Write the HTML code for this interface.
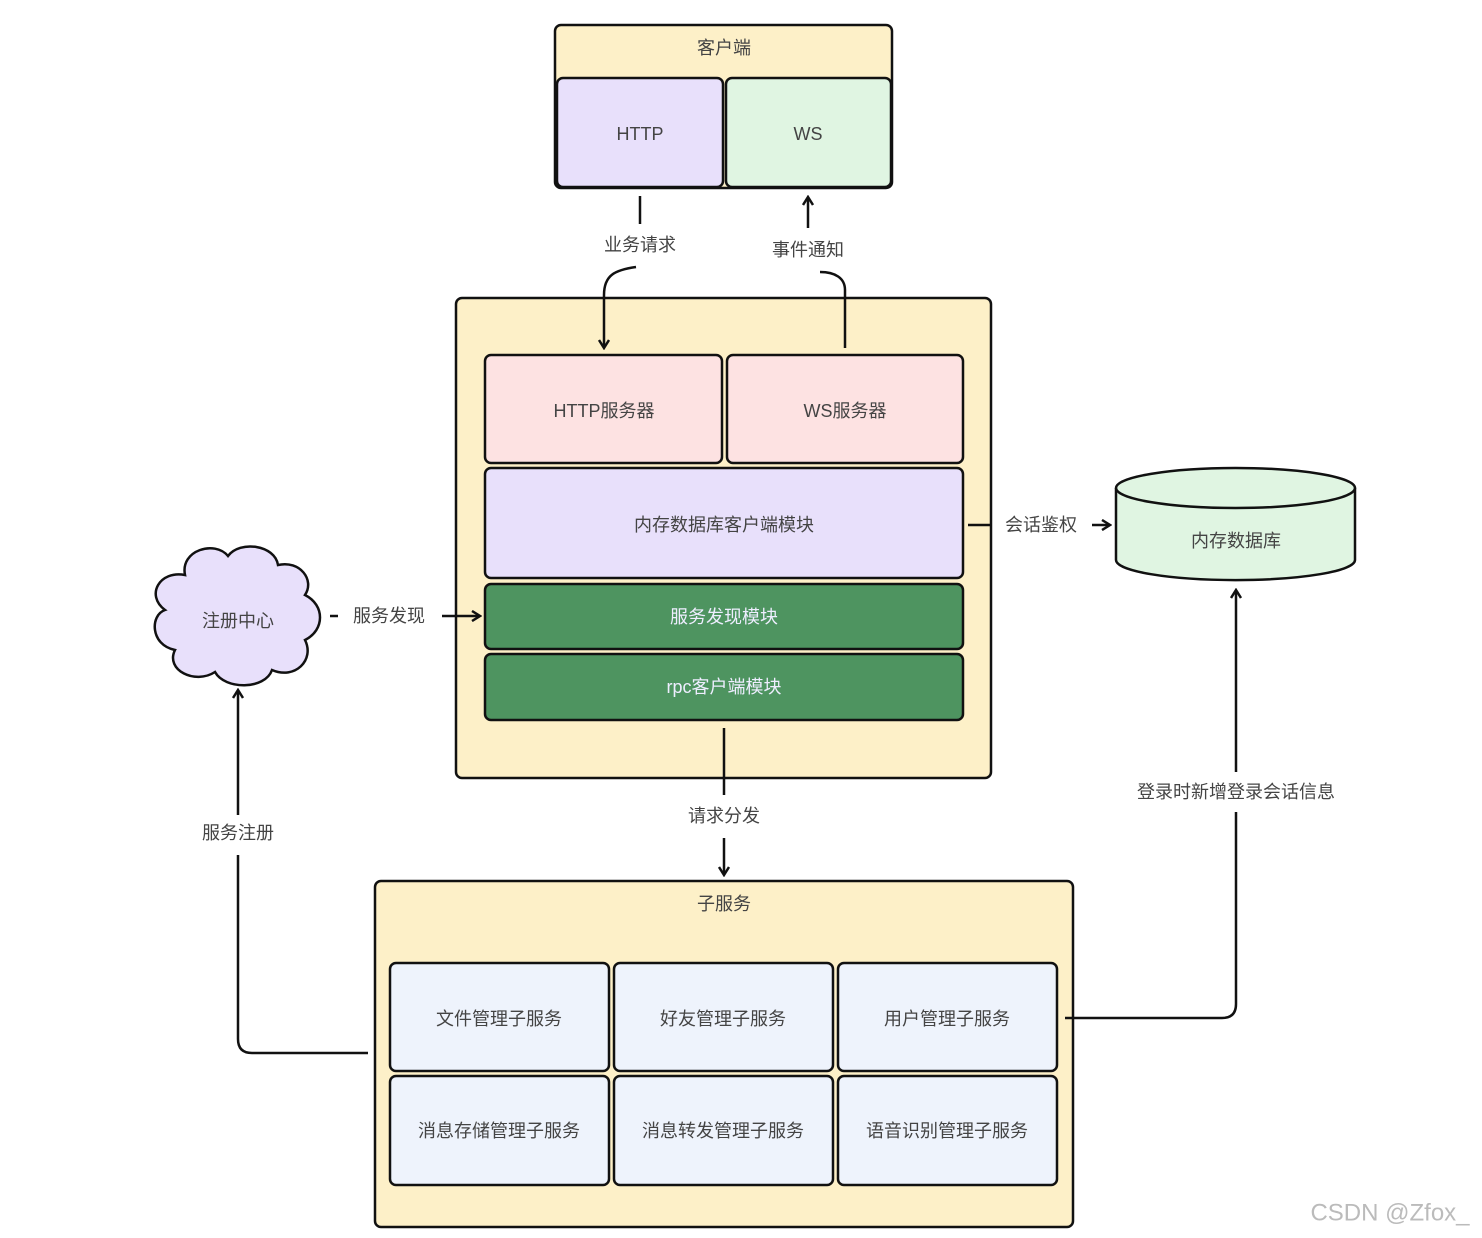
<!DOCTYPE html>
<html><head><meta charset="utf-8"><style>
html,body{margin:0;padding:0;background:#fff;}
svg{display:block;}
text{font-family:"Liberation Sans","Noto Sans CJK SC",sans-serif;fill:#444;font-size:18px;text-anchor:middle;dominant-baseline:central;}
</style></head><body>
<svg width="1482" height="1238" viewBox="0 0 1482 1238">
<defs>
<marker id="a" markerWidth="12" markerHeight="12" refX="10" refY="6" orient="auto" markerUnits="userSpaceOnUse">
<path d="M2,1 L10,6 L2,11" fill="none" stroke="#111" stroke-width="2.5"/>
</marker>
</defs>
<g stroke="#111" stroke-width="2.5">
<!-- client -->
<rect x="555" y="25" width="337" height="163" rx="6" fill="#fdf0c8"/>
<rect x="557" y="78" width="166" height="109" rx="6" fill="#e8e0fb"/>
<rect x="726" y="78" width="165" height="109" rx="6" fill="#e0f5e2"/>
<!-- gateway -->
<rect x="456" y="298" width="535" height="480" rx="6" fill="#fdf0c8"/>
<rect x="485" y="355" width="237" height="108" rx="6" fill="#fde2e2"/>
<rect x="727" y="355" width="236" height="108" rx="6" fill="#fde2e2"/>
<rect x="485" y="468" width="478" height="110" rx="6" fill="#e8e0fb"/>
<rect x="485" y="584" width="478" height="65" rx="6" fill="#4e9460"/>
<rect x="485" y="654" width="478" height="66" rx="6" fill="#4e9460"/>
<!-- subservices -->
<rect x="375" y="881" width="698" height="346" rx="6" fill="#fdf0c8"/>
<g fill="#eef3fc">
<rect x="390" y="963" width="219" height="108" rx="6"/>
<rect x="614" y="963" width="219" height="108" rx="6"/>
<rect x="838" y="963" width="219" height="108" rx="6"/>
<rect x="390" y="1076" width="219" height="109" rx="6"/>
<rect x="614" y="1076" width="219" height="109" rx="6"/>
<rect x="838" y="1076" width="219" height="109" rx="6"/>
</g>
<!-- cylinder -->
<path d="M1116,488 L1116,560 A119,20 0 0 0 1355,560 L1355,488" fill="#e0f5e2"/>
<ellipse cx="1235.5" cy="488" rx="119.5" ry="20" fill="#e0f5e2"/>
<!-- cloud -->
<path d="M185,575 C180,550 215,540 228,556 C240,540 275,545 278,565 C300,560 315,580 305,595 C325,605 325,630 305,640 C315,660 295,680 272,670 C265,690 225,690 215,672 C195,685 165,670 175,650 C150,645 150,615 165,610 C145,595 160,570 185,575 Z" fill="#e8e0fb"/>
</g>
<g fill="none" stroke="#111" stroke-width="2.5">
<line x1="640" y1="196" x2="640" y2="224"/>
<path d="M636,267 C615,270 604,275 604,295 L604,348" marker-end="url(#a)"/>
<line x1="808" y1="228" x2="808" y2="197" marker-end="url(#a)"/>
<path d="M845,348 L845,290 C845,278 835,272 820,272"/>
<line x1="968" y1="525" x2="990" y2="525"/>
<line x1="1092" y1="525" x2="1110" y2="525" marker-end="url(#a)"/>
<line x1="330" y1="616" x2="338" y2="616"/>
<line x1="442" y1="616" x2="480" y2="616" marker-end="url(#a)"/>
<path d="M368,1053 L252,1053 Q238,1053 238,1039 L238,855"/>
<line x1="238" y1="815" x2="238" y2="690" marker-end="url(#a)"/>
<line x1="724" y1="728" x2="724" y2="795"/>
<line x1="724" y1="838" x2="724" y2="875" marker-end="url(#a)"/>
<path d="M1065,1018 L1222,1018 Q1236,1018 1236,1004 L1236,812"/>
<line x1="1236" y1="772" x2="1236" y2="590" marker-end="url(#a)"/>
</g>
<text x="724" y="48">客户端</text>
<text x="640" y="134">HTTP</text>
<text x="808" y="134">WS</text>
<text x="640" y="245">业务请求</text>
<text x="808" y="250">事件通知</text>
<text x="604" y="411">HTTP服务器</text>
<text x="845" y="411">WS服务器</text>
<text x="724" y="525">内存数据库客户端模块</text>
<text x="724" y="617" style="fill:#eef">服务发现模块</text>
<text x="724" y="687" style="fill:#eef">rpc客户端模块</text>
<text x="1041" y="525">会话鉴权</text>
<text x="1236" y="541">内存数据库</text>
<text x="238" y="621">注册中心</text>
<text x="389" y="616">服务发现</text>
<text x="238" y="833">服务注册</text>
<text x="724" y="816">请求分发</text>
<text x="1236" y="792">登录时新增登录会话信息</text>
<text x="724" y="904">子服务</text>
<text x="499" y="1019">文件管理子服务</text>
<text x="723" y="1019">好友管理子服务</text>
<text x="947" y="1019">用户管理子服务</text>
<text x="499" y="1131">消息存储管理子服务</text>
<text x="723" y="1131">消息转发管理子服务</text>
<text x="947" y="1131">语音识别管理子服务</text>
<text x="1390" y="1213" style="fill:#bbb;font-size:24px">CSDN @Zfox_</text>
</svg>
</body></html>
